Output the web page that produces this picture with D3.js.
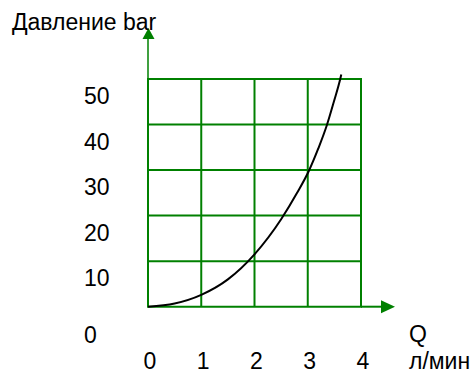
<!DOCTYPE html>
<html>
<head>
<meta charset="utf-8">
<script src="https://cdn.jsdelivr.net/npm/d3@7"></script>
<style>
  html, body { margin: 0; padding: 0; background: #fff; }
  svg { display: block; }
  text { font-family: "Liberation Sans", Arial, sans-serif; fill: #000; }
</style>
</head>
<body>
<svg id="chart" width="476" height="371"></svg>
<script>
// ---- data ----
const xTicks = [0, 1, 2, 3, 4];
const yTicks = [0, 10, 20, 30, 40, 50];
const xTickLabels = ["0", "1", "2", "3", "4"];
const yTickLabels = ["0", "10", "20", "30", "40", "50"];
const flowQ = [0, 0.5, 1.0, 1.5, 2.0, 2.5, 2.8, 3.02, 3.2, 3.36, 3.49, 3.61, 3.63];
const pressure = [0, 0.7, 2.6, 6.0, 11.5, 19.2, 25.0, 29.8, 34.8, 39.9, 45, 50, 51];
const yTitle = "Давление bar";
const xTitle1 = "Q";
const xTitle2 = "л/мин";

// ---- layout ----
const svg = d3.select("#chart");
const green = "#008000";
const fontSize = 23;
const x = d3.scaleLinear().domain([0, 4]).range([148, 361]);
const y = d3.scaleLinear().domain([0, 50]).range([306.7, 79]);

// axis extensions with arrows
const yTop = 28;
const xRight = 395;
svg.append("line")
  .attr("x1", x(0)).attr("x2", x(0))
  .attr("y1", y(50)).attr("y2", yTop + 10)
  .attr("stroke", green).attr("stroke-width", 1.5);
svg.append("path")
  .attr("d", `M${x(0) + 0.5},${yTop} L${x(0) + 6.5},${yTop + 11} L${x(0) - 5.5},${yTop + 11} Z`)
  .attr("fill", green);
svg.append("line")
  .attr("x1", x(4)).attr("x2", xRight - 12)
  .attr("y1", y(0)).attr("y2", y(0))
  .attr("stroke", green).attr("stroke-width", 2);
svg.append("path")
  .attr("d", `M${xRight},${y(0)} L${xRight - 14},${y(0) - 6.5} L${xRight - 14},${y(0) + 6.5} Z`)
  .attr("fill", green);

// grid
const grid = svg.append("g");
grid.selectAll("line.v").data(xTicks).join("line")
  .attr("class", "v")
  .attr("x1", d => x(d)).attr("x2", d => x(d))
  .attr("y1", y(0)).attr("y2", y(50))
  .attr("stroke", green).attr("stroke-width", 2);
grid.selectAll("line.h").data(yTicks).join("line")
  .attr("class", "h")
  .attr("x1", x(0) - 1).attr("x2", x(4) + 1)
  .attr("y1", d => y(d)).attr("y2", d => y(d))
  .attr("stroke", green).attr("stroke-width", 2);

// curve
const line = d3.line()
  .x((d, i) => x(flowQ[i]))
  .y(d => y(d))
  .curve(d3.curveMonotoneX);
svg.append("path")
  .datum(pressure)
  .attr("d", line)
  .attr("fill", "none")
  .attr("stroke", "#000")
  .attr("stroke-width", 2);

// y tick labels
svg.selectAll("text.yl").data(yTicks).join("text")
  .attr("class", "yl")
  .attr("x", 84)
  .attr("y", d => y(d) + (d === 0 ? 36 : 25))
  .attr("font-size", fontSize)
  .text((d, i) => yTickLabels[i]);

// x tick labels
svg.selectAll("text.xl").data(xTicks).join("text")
  .attr("class", "xl")
  .attr("x", d => x(d) + 2)
  .attr("y", 369)
  .attr("text-anchor", "middle")
  .attr("font-size", fontSize)
  .text((d, i) => xTickLabels[i]);

// titles
svg.append("text").attr("x", 12).attr("y", 29.5)
  .attr("font-size", fontSize).text(yTitle);
svg.append("text").attr("x", 409).attr("y", 342)
  .attr("font-size", fontSize).text(xTitle1);
svg.append("text").attr("x", 409).attr("y", 369)
  .attr("font-size", fontSize).text(xTitle2);
</script>
</body>
</html>
